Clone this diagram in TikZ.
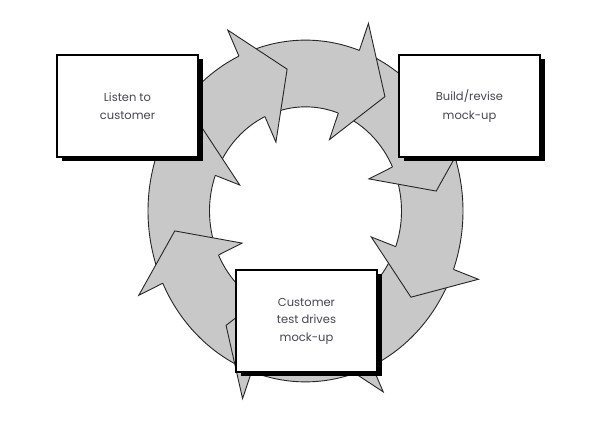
\documentclass[tikz,border=0pt]{standalone}
\usepackage{fontspec}
\setmainfont{Poppins}
\usetikzlibrary{shadows}
\definecolor{ringgray}{RGB}{200,200,200}
\definecolor{txt}{RGB}{70,70,80}
\begin{document}
\begin{tikzpicture}[x=1pt,y=-1pt,
  stepbox/.style={draw=black, line width=1.1pt, fill=white,
    minimum width=141pt, minimum height=102pt, align=center,
    font=\fontsize{11.5}{18.5}\selectfont, text=txt, inner sep=0pt,
    drop shadow={shadow xshift=5pt, shadow yshift=-4pt, fill=black, opacity=1}},
  ringline/.style={draw=black!85, line width=0.9pt, line join=miter}]
\useasboundingbox (0,0) rectangle (598,443);
\fill[white] (0,0) rectangle (598,443);
\begin{scope}[shift={(305.5,211)}, yscale=-1.085]
  \fill[ringgray, even odd rule]
    plot[domain=0:360,samples=241] (\x:157.5) -- cycle
    plot[domain=0:360,samples=241] (\x:96) -- cycle;
  \draw[ringline] plot[domain=0:360,samples=241] (\x:157.5) -- cycle;
  \draw[ringline] plot[domain=0:360,samples=241] (\x:96) -- cycle;
  \foreach \b [evaluate=\b as \t using \b-17] in {115,70,25,-20,-65,-110,-155,-200} {
    \fill[ringgray] (\b:157.5) -- (\b:184) -- (\t:132) -- (\b:70) -- (\b:96) -- cycle;
    \draw[ringline] (\b:157.5) -- (\b:184) -- (\t:132) -- (\b:70) -- (\b:96);
  }
\end{scope}
\node[stepbox] (listen) at (127.5,106) {Listen to\\customer};
\node[stepbox] (build) at (469.5,106) {Build/revise\\mock-up};
\node[stepbox, font=\fontsize{11.5}{17.5}\selectfont] (test) at (306.5,321) {Customer\\test drives\\mock-up};
\end{tikzpicture}
\end{document}
